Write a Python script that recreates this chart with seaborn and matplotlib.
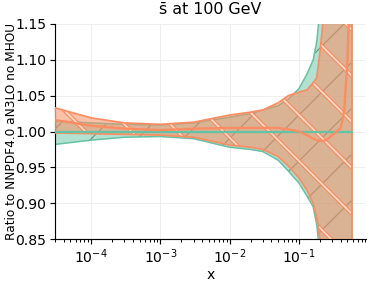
import numpy as np
import pandas as pd
import matplotlib
matplotlib.use("Agg")
import matplotlib.pyplot as plt
import seaborn as sns

# data
x = [3e-5, 1e-4, 3e-4, 1e-3, 3e-3, 1e-2, 2e-2, 3e-2, 5e-2, 7e-2, 0.1, 0.13, 0.16, 0.18, 0.2, 0.22, 0.25, 0.3, 0.4, 0.45, 0.5, 0.52, 0.58]
green_central = [1.0] * len(x)
green_upper = [1.015, 1.012, 1.010, 1.009, 1.012, 1.020, 1.025, 1.030, 1.036, 1.045, 1.060, 1.080, 1.100, 1.125, 1.17, 1.22, 1.3, 1.4, 1.5, 1.6, 1.7, 1.7, 1.7]
green_lower = [0.982, 0.988, 0.992, 0.993, 0.990, 0.978, 0.975, 0.972, 0.960, 0.945, 0.928, 0.910, 0.895, 0.870, 0.83, 0.78, 0.7, 0.6, 0.5, 0.4, 0.3, 0.3, 0.3]
orange_central = [1.016, 1.008, 1.004, 1.002, 1.004, 1.005, 1.005, 1.005, 1.005, 1.003, 1.000, 0.995, 0.99, 0.988, 0.987, 0.987, 0.988, 0.995, 1.005, 1.03, 1.10, 1.15, 1.3]
orange_upper = [1.033, 1.019, 1.012, 1.010, 1.013, 1.023, 1.027, 1.030, 1.040, 1.050, 1.055, 1.058, 1.068, 1.075, 1.11, 1.15, 1.25, 1.4, 1.6, 1.7, 1.8, 1.8, 1.8]
orange_lower = [0.998, 0.997, 0.996, 0.995, 0.992, 0.981, 0.978, 0.975, 0.965, 0.952, 0.935, 0.918, 0.900, 0.880, 0.85, 0.80, 0.72, 0.6, 0.5, 0.4, 0.3, 0.3, 0.3]

title = "s\u0304 at 100 GeV"
ylabel = "Ratio to NNPDF4.0 aN3LO no MHOU"
xlabel = "x"

sns.set_style("ticks")
plt.rcParams.update({
    'text.color': 'black', 'axes.labelcolor': 'black',
    'xtick.color': 'black', 'ytick.color': 'black',
    'axes.edgecolor': 'black',
})

green = "#66c2a5"
orange = "#fc8d62"
DPI = 138

fig = plt.figure(figsize=(374 / DPI, 281 / DPI), dpi=DPI)
ax = fig.add_axes([0.147, 0.149, 0.832, 0.766])

df = pd.DataFrame({"x": x + x, "ratio": green_central + orange_central,
                   "fit": ["green"] * len(x) + ["orange"] * len(x)})

# green band
ax.fill_between(x, green_lower, green_upper, facecolor=green, alpha=0.5,
                linewidth=0, zorder=2)
plt.rcParams['hatch.linewidth'] = 0.6
gh = ax.fill_between(x, green_lower, green_upper, facecolor="none",
                     edgecolor=(0.35, 0.5, 0.4, 0.8), hatch="/", linewidth=0, zorder=2)
ax.fill_between(x, green_lower, green_upper, facecolor="none",
                edgecolor=green, linewidth=0.8, zorder=2)
# orange band
ax.fill_between(x, orange_lower, orange_upper, facecolor=orange, alpha=0.55,
                linewidth=0, zorder=3)
plt.rcParams['hatch.linewidth'] = 2.2
oh1 = ax.fill_between(x, orange_lower, orange_upper, facecolor="none",
                      edgecolor=(0.99, 0.55, 0.38, 0.9), hatch="\\", linewidth=0, zorder=3)
plt.rcParams['hatch.linewidth'] = 0.8
oh2 = ax.fill_between(x, orange_lower, orange_upper, facecolor="none",
                      edgecolor="#ffe3d6", hatch="\\", linewidth=0, zorder=3)
ax.fill_between(x, orange_lower, orange_upper, facecolor="none",
                edgecolor=orange, linewidth=0.9, zorder=3)
for coll, lw in ((gh, 0.6), (oh1, 2.2), (oh2, 0.8)):
    if hasattr(coll, "set_hatch_linewidth"):
        coll.set_hatch_linewidth(lw)

sns.lineplot(data=df, x="x", y="ratio", hue="fit", palette=[green, orange],
             linewidth=1.2, ax=ax, legend=False, zorder=4)

ax.set_xscale("log")
ax.set_xlim(3e-5, 0.93)
ax.set_ylim(0.85, 1.15)
ax.set_yticks([0.85, 0.90, 0.95, 1.00, 1.05, 1.10, 1.15])
ax.set_yticklabels(["0.85", "0.90", "0.95", "1.00", "1.05", "1.10", "1.15"])
ax.set_xticks([1e-4, 1e-3, 1e-2, 1e-1])
ax.grid(True, color="#eeeeee", linewidth=0.5)
ax.tick_params(axis="both", labelsize=7.3, length=2.5, width=0.6, pad=2)
ax.tick_params(axis="x", which="minor", length=1.5, width=0.5)
ax.set_title(title, fontsize=8.3, pad=5)
ax.set_ylabel(ylabel, fontsize=6.3, labelpad=-1.5)
ax.set_xlabel(xlabel, fontsize=7.3, labelpad=1)
for s in ax.spines.values():
    s.set_linewidth(0.6)
sns.despine(ax=ax)

fig.savefig("out.png", dpi=DPI)
